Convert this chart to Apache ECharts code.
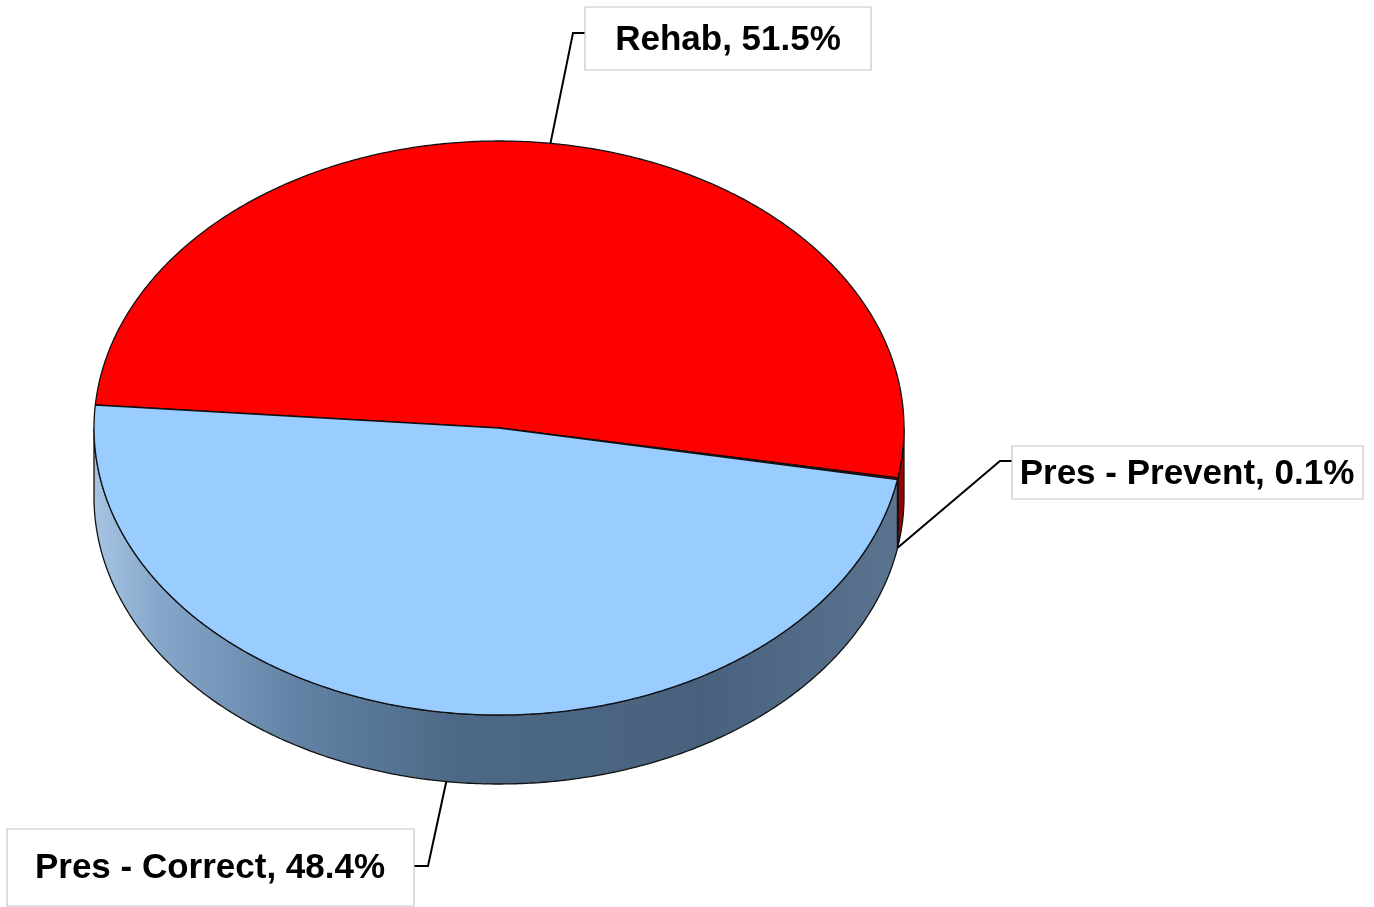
<!DOCTYPE html>
<html><head><meta charset="utf-8">
<script src="https://cdn.jsdelivr.net/npm/echarts@6/dist/echarts.min.js"></script>
<style>html,body{margin:0;padding:0;background:#fff}#main{width:1374px;height:907px}</style>
</head><body><div id="main"></div>
<script>
// ---- data ----
const categories = ['Rehab', 'Pres - Prevent', 'Pres - Correct'];
const values = [51.5, 0.1, 48.4];

// ---- layout / style ----
const PIE = { cx: 499, cy: 428, rx: 405, ry: 287, depth: 69, startAngle: 175.4 };
const TOP_COLORS = ['#FF0000', '#8B0000', '#99CCFF'];
const OUTLINE = '#111111';
const SIDE_FILLS = [
  { type: 'linear', x: PIE.cx - PIE.rx, y: 0, x2: PIE.cx + PIE.rx, y2: 0, global: true,
    colorStops: [{ offset: 0, color: '#b00000' }, { offset: 1, color: '#9a0000' }] },
  { type: 'linear', x: PIE.cx - PIE.rx, y: 0, x2: PIE.cx + PIE.rx, y2: 0, global: true,
    colorStops: [{ offset: 0, color: '#9a0000' }, { offset: 1, color: '#8a0000' }] },
  { type: 'linear', x: PIE.cx - PIE.rx, y: 0, x2: PIE.cx + PIE.rx, y2: 0, global: true,
    colorStops: [
      { offset: 0, color: '#a7c4e2' }, { offset: 0.08, color: '#86a7ca' },
      { offset: 0.25, color: '#6283a5' }, { offset: 0.45, color: '#4d6886' },
      { offset: 0.75, color: '#48627e' }, { offset: 1, color: '#5b7590' }] }
];
const LABEL_LAYOUT = [
  { pts: [[573, 33], [585, 33]], box: [585, 7, 286, 63], text: [728, 40] },
  { pts: [[1000, 461], [1012, 461]], box: [1012, 446, 351, 53], text: [1187, 474] },
  { pts: [[428, 866], [414, 866]], box: [7, 829, 407, 77], text: [210, 868] }
];
const LABEL_FONT = 'bold 35px "Liberation Sans", Arial, sans-serif';

function renderItem(params, api) {
  const i = params.dataIndex;
  const total = values.reduce((a, b) => a + b, 0);
  let a0 = PIE.startAngle;
  for (let k = 0; k < i; k++) a0 -= values[k] / total * 360;
  const a1 = a0 - values[i] / total * 360;
  const rad = Math.PI / 180;
  const pt = (t, dz) => [PIE.cx + PIE.rx * Math.cos(t * rad), PIE.cy - PIE.ry * Math.sin(t * rad) + (dz || 0)];
  const arc = (from, to, dz) => {
    const n = Math.max(2, Math.ceil(Math.abs(to - from) / 0.5));
    const r = [];
    for (let j = 0; j <= n; j++) r.push(pt(from + (to - from) * j / n, dz));
    return r;
  };
  const children = [];
  // visible side walls (front half)
  for (let k = -1; k <= 1; k++) {
    const lo = Math.max(a1, -180 + 360 * k), hi = Math.min(a0, 360 * k);
    if (hi - lo > 1e-6) {
      const pts = arc(lo, hi, 0).concat(arc(hi, lo, PIE.depth));
      children.push({ type: 'polygon', z2: 1, shape: { points: pts },
        style: { fill: SIDE_FILLS[i], stroke: OUTLINE, lineWidth: 1.3, lineJoin: 'round' } });
    }
  }
  // top face
  children.push({ type: 'polygon', z2: 2,
    shape: { points: [[PIE.cx, PIE.cy]].concat(arc(a0, a1, 0)) },
    style: { fill: TOP_COLORS[i], stroke: OUTLINE, lineWidth: 1.3, lineJoin: 'round' } });
  // leader line + label
  const mid = (a0 + a1) / 2;
  const front = Math.sin(mid * rad) < 0;
  const anchor = pt(mid, front ? PIE.depth : 0);
  const L = LABEL_LAYOUT[i];
  children.push({ type: 'polyline', z2: 3, shape: { points: [anchor].concat(L.pts) },
    style: { stroke: '#000', lineWidth: 2, fill: null } });
  children.push({ type: 'rect', z2: 4, shape: { x: L.box[0], y: L.box[1], width: L.box[2], height: L.box[3] },
    style: { fill: '#fff', stroke: '#c6c6c6', lineWidth: 1.2 } });
  children.push({ type: 'text', z2: 5, x: L.text[0], y: L.text[1],
    style: { text: categories[i] + ', ' + values[i].toFixed(1) + '%', font: LABEL_FONT,
      fill: '#000', align: 'center', verticalAlign: 'middle' } });
  return { type: 'group', children };
}

const chart = echarts.init(document.getElementById('main'));
chart.setOption({
  animation: false,
  backgroundColor: '#fff',
  series: [{
    type: 'custom',
    coordinateSystem: 'none',
    silent: true,
    data: values.map((v, i) => ({ name: categories[i], value: v })),
    renderItem
  }]
});
</script></body></html>
